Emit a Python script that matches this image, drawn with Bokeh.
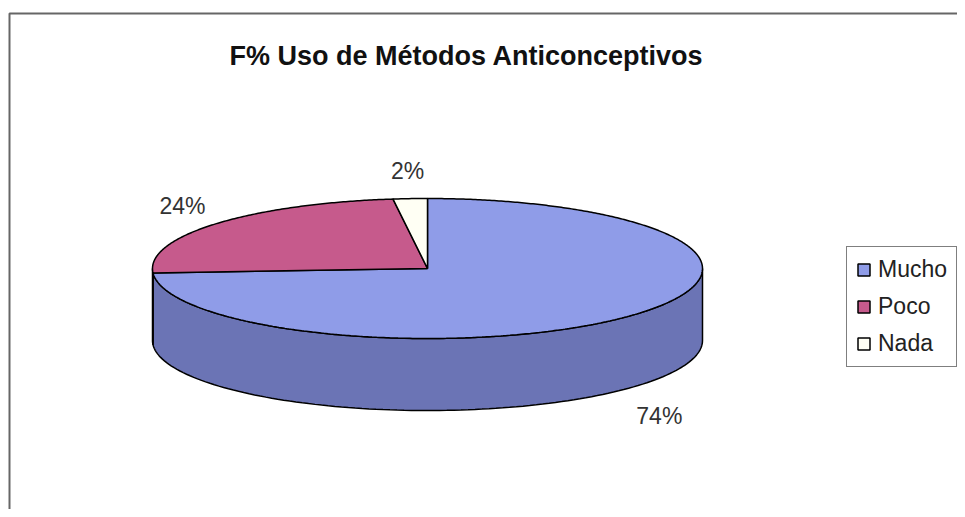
import numpy as np
from bokeh.plotting import figure
from bokeh.models import Range1d, Legend, LegendItem, ColumnDataSource
from bokeh.core.properties import value
from bokeh.embed import file_html
from bokeh.resources import INLINE

# ---- data ----
title_text = "F% Uso de Métodos Anticonceptivos"
categories = ["Mucho", "Poco", "Nada"]
percent = [74, 24, 2]
labels = ["74%", "24%", "2%"]
top_colors = ["#8F9CE8", "#C65A8C", "#FFFFF4"]
side_colors = ["#6B74B5", "#8E3A60", "#CCCCBB"]

# ---- layout (screen px inside the figure) ----
W, H = 957, 509
CX, CY = 427, 268      # pie centre
A, B = 275, 70         # ellipse semi axes
DEPTH = 72             # pie thickness
FONT = "Liberation Sans"

p = figure(width=W, height=H, x_range=Range1d(0, W), y_range=Range1d(H, 0),
           output_backend="svg", toolbar_location=None, min_border=0,
           x_axis_location=None, y_axis_location=None)
p.grid.visible = False
p.outline_line_color = None
p.background_fill_color = "white"
p.border_fill_color = "white"

# chart frame (left / top edges visible in the crop)
p.line(x=[9, 9, W + 5], y=[H + 5, 13, 13], line_color="#666666", line_width=2)


def ell(theta_deg, dy=0.0):
    t = np.radians(theta_deg)
    return CX + A * np.sin(t), CY - B * np.cos(t) + dy


total = float(sum(percent))
starts, ends = [], []
acc = 0.0
for v in percent:
    starts.append(acc / total * 360.0)
    acc += v
    ends.append(acc / total * 360.0)

# side walls (front half: 90..270 deg clockwise from top)
for s, e, col in zip(starts, ends, side_colors):
    s2, e2 = max(s, 90.0), min(e, 270.0)
    if s2 >= e2:
        continue
    th = np.linspace(s2, e2, 120)
    xt, yt = ell(th)
    xb, yb = ell(th[::-1], DEPTH)
    p.patch(x=np.concatenate([xt, xb]), y=np.concatenate([yt, yb]),
            fill_color=col, line_color="black", line_width=1.5)

# top faces
renderers = []
for s, e, col in zip(starts, ends, top_colors):
    th = np.linspace(s, e, max(int((e - s) * 2), 4))
    xt, yt = ell(th)
    r = p.patch(x=np.concatenate([[CX], xt, [CX]]), y=np.concatenate([[CY], yt, [CY]]),
                fill_color=col, line_color="black", line_width=1.5)
    renderers.append(r)

# data labels
lx, ly = [], []
for s, e in zip(starts, ends):
    m = np.radians((s + e) / 2.0)
    x = CX + (A + 43) * np.sin(m)
    y = CY - (B + 28) * np.cos(m)
    if np.cos(m) < 0:
        y += DEPTH + 8
    lx.append(x)
    ly.append(y)
src = ColumnDataSource(dict(x=lx, y=ly, t=labels))
p.text(x="x", y="y", text="t", source=src, text_font=value(FONT),
       text_font_size="23px", text_color="#333333",
       text_align="center", text_baseline="middle")

# title
p.text(x=[466], y=[55], text=[title_text], text_font=value(FONT),
       text_font_size="27px", text_font_style="bold", text_color="#111111",
       text_align="center", text_baseline="middle")

# legend
legend = Legend(items=[LegendItem(label=c, renderers=[r]) for c, r in zip(categories, renderers)],
                location=(846, 142))
legend.border_line_color = "black"
legend.border_line_width = 1
legend.background_fill_color = "white"
legend.background_fill_alpha = 1.0
legend.label_text_font = FONT
legend.label_text_font_size = "23px"
legend.label_text_color = "#222222"
legend.glyph_width = 15
legend.glyph_height = 15
legend.label_standoff = 7
legend.padding = 9
legend.spacing = 10
legend.label_height = 27
legend.margin = 0
p.add_layout(legend)

open("out.html", "w").write(file_html(p, INLINE))
